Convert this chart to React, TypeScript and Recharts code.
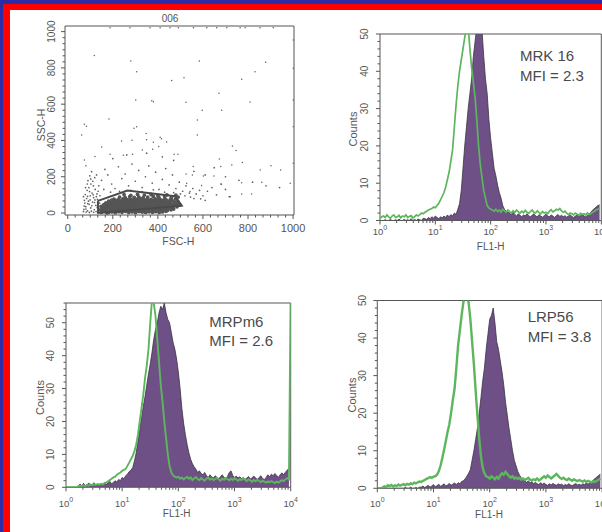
import React from 'react';
import { ComposedChart, ScatterChart, Scatter, Area, Line, XAxis, YAxis, ReferenceArea } from 'recharts';

const FONT = "'Liberation Sans', Arial, Helvetica, sans-serif";
const AXIS_COLOR = '#555555';
const TEXT_COLOR = '#555555';
const PURPLE = '#6F5086';
const PURPLE_EDGE = '#3a3340';
const GREEN = '#5DB65D';
const DOT = '#606060';

// ---------- Histogram data (counts per 2-channel bin, 256 channels = 4 decades) ----------
const CHANNEL_STEP = 2;

const mrk16Stained = [
  0,0,0,0.2,0,0,0.3,0,0,0.2,0,0.4,0,0,0.3,0,0.2,0,0.5,0,0.3,0,0.4,0.2,0,0.6,
  0.5,0.3,0.8,0.5,1,0.6,1.2,0.8,0.5,1,0.7,1.2,0.8,1.5,1,1.6,1.2,2,1.6,
  3,4.5,8,14,20,25,30,34,38,44,48,52,53,52,51,44,38,34,27,22,18,14,12,9.5,7.5,6,4,3,2.5,2.2,
  2,1.5,2.2,1.6,1.2,1.8,1.4,1,1.5,1.2,1.8,1.3,1,1.4,1.8,1.2,1,1.6,1.2,0.9,1.3,1.7,1.2,1,1.5,1.2,0.8,1.3,1.6,1.1,1.4,1,1.3,0.9,1.2,1.5,1.1,0.8,1.2,1.5,1,1.3,1.6,1.2,1,1.4,1.8,2.2,2.8,3.2,3.6,4,4.2
];
const mrk16Control = [
  0.5,1,1.2,0.8,1.5,1,0.6,1.2,1.5,0.8,1,1.4,0.7,1.2,1,1.5,0.8,1.1,1.3,0.7,1,1.5,1.2,1.6,2,1.8,
  2.2,2.5,2.8,3,3.2,3.6,3.4,4,4.6,5.5,6.5,7.5,9,11,13,16,19,25,31,36,40,43,46,49,52,52,46,41,37,33,27,20,15,11.5,8,6,4,3.4,
  3,2.8,2.5,3,2.4,2.8,2.2,3,2.6,2.2,2.8,2.4,2,2.6,2.2,2.8,2.3,2,2.5,2.1,2.7,2.2,1.9,2.4,2.8,2.2,2,2.6,2.1,1.8,2.4,2,2.2,1.8,2.5,2.9,2.3,2.6,3,2.8,3.2,2.6,2.2,2.5,2,1.6,2,1.8,1.5,2,1.7,1.4,1.9,1.6,1.8,1.5,2,1.6,1.9,2.2,2.5,2.8,3,3.2
];

const mrpStained = [
  0,0,0,0,0,0,
  0,0.3,1,0.4,1.2,0.5,0.8,1.3,0.5,0.9,1.4,0.6,1,0.5,1.2,0.8,1.5,0.9,1.3,
  1.8,1,1.5,2,1.6,2.4,2,3,2.6,3.5,4,4.8,5.2,6,8,10.5,14,17.5,21,24.5,27.5,31,34.5,37.5,41,
  45,48,50,53,55,54,56,53,51,50,47,44,42,39,35,30,24,19.5,16,13,10.5,8.5,7.2,6.2,5.5,
  4.5,5,4.2,3.8,4.5,3.6,3,3.8,3.2,2.8,3.5,3,2.6,3.2,3.8,3,2.6,3.3,4.5,5,3.6,3,3.4,2.8,3.2,2.6,3,2.4,2.8,3.3,2.5,2.9,3.4,2.8,2.4,3,3.5,2.7,2.3,3,3.8,3.2,4,3.5,4.2,3.6,3,3.8,4.4,3.8,4.6,5.2,5.8
];
const mrpControl = [
  0,0,0,0,0,0,
  0,0.3,0.5,0.3,0.6,0.4,0.7,0.5,0.8,0.6,0.9,0.7,1,0.8,1.1,0.9,1.3,1.5,1.8,
  2.2,2.6,3,3.2,3.8,4.2,4.5,5,5.3,5.6,6.5,7.5,8.5,9.5,11,13,16,20,24,28,33,37,42,50,57,
  56,52,45,38,31,26,20,15,10,6.5,4.5,3.6,3.2,3,
  3.2,2.6,3,2.4,2.8,3.2,2.6,3,2.2,2.7,3.1,2.5,2.2,2.8,2.4,2,2.6,3,2.3,2.7,2.2,2.5,2.9,2.4,2,2.6,2.3,2.8,2.5,2.1,2.6,2.2,2.8,2.4,2,2.5,2.2,2.7,2.3,1.9,2.4,2.1,1.7,2.2,1.8,2.3,1.9,1.6,2,1.7,1.4,1.8,1.5,1.9,1.6,1.3,1.7,1.4,1.8,2.2,1.9,2.4,2.8,2.5,
  60
];

const lrpStained = [
  0,0,0,0,0,0,0,0,0,0,0,0,0,0,0,0,0.2,0,0,0.3,0,0,0.2,0,0.3,
  0.3,0.6,0.2,0.5,0.8,0.3,0.6,1,0.4,0.7,1.1,0.5,0.8,1.2,0.6,0.9,1.3,0.8,1.1,1.4,1,1.5,1.2,1.8,2,
  2.5,3.2,4,5,7.5,10,13,16,20,24,28.5,32,37,41,45,46,48,44,39,37,34,31,27.5,23,19.5,16,13,10,7.5,6,4.5,
  3.5,2.8,2.2,2,1.6,2,1.4,1.8,1.2,1.6,1.2,1,1.5,1.1,1.4,1,0.8,1.2,0.9,1.3,1,0.8,1.2,0.9,1.1,0.7,1,0.8,1.2,0.9,0.7,1,1.3,0.9,1.1,0.8,1.2,1,1.4,1.1,1.5,1.8,2.2,2.6,3,3.4,3.8
];
const lrpControl = [
  0,0,0,0.2,0.5,0.3,0.8,0.6,0.9,0.5,0.8,0.6,1,0.7,0.9,1.1,0.8,1.2,1,1.3,1.1,1.5,1.3,1.6,1.8,
  1.7,2,2.2,2.5,2.7,3,2.8,3.1,3.2,3.6,4.5,6,8,10.2,12.5,15,17,20,23.5,26.5,32,38,42,46,49.5,
  51,51,49.5,45,39,33,26,19.5,13.5,8.5,5.5,4,3.2,3,
  2.6,3.2,2.8,2.4,3,2.6,3.4,4,3.6,4.4,3.8,3.2,2.8,3.2,2.6,2.9,2.5,2.8,2.3,2.6,2.2,2.5,2.8,2.3,2.1,2.4,2.2,2.6,2.1,2.4,2.8,3.2,2.8,3.4,3,2.6,3,3.4,3.8,3.3,2.8,2.5,2.8,2.4,2.2,2.6,2.3,2,2.4,2.1,1.9,2.2,2,1.8,2.1,1.7,2,1.8,1.6,1.9,1.7,2,2.3,2.6
];

// ---------- Scatter data (FSC-H, SSC-H) ----------
const gateVertices = [[134,67],[265,124],[476,93],[506,40],[135,0],[134,67]];

const sparseEvents = [
  [118,868],[280,838],[306,779],[584,838],[878,831],[831,779],[461,730],[516,746],[772,737],[671,660],
  [809,612],[302,623],[373,619],[380,614],[525,610],[597,566],[683,566],[575,513],[183,518],[74,489],
  [83,478],[62,430],[306,476],[294,467],[348,439],[410,417],[416,410],[575,430],[151,364],[239,397],
  [285,401],[350,404],[380,390],[439,392],[731,369],[747,344],[121,311],[188,324],[247,318],[288,324],
  [331,347],[377,351],[404,366],[472,324],[489,324],[74,292],[81,261],[557,256],[673,298],[679,256],
  [728,265],[775,278],[854,237],[902,261],[945,237],[987,164],[525,215],[553,210],[861,169],[772,167],
  [682,158],[594,151],[772,105],[816,105],[716,90],[649,204],[602,204],[528,164],[543,118]
];
const saturatedEvents = [
  [188,1022],[276,1022],[365,1022],[410,1022],[454,1022],[491,1022],[558,1022],[617,1022],[661,1022],
  [706,1022],[765,1022],[787,1022],[853,1022],[912,1022],
  [1001,954],[1001,798],[1001,623],[1001,476],[1001,274]
];
const midEvents = [
  [150,180],[165,240],[178,210],[195,160],[210,135],[225,255],[240,190],[255,215],[270,150],[285,270],
  [300,175],[315,235],[330,140],[345,200],[360,260],[375,165],[390,225],[405,130],[420,185],[435,245],
  [450,155],[465,210],[480,135],[495,170],[510,120],[525,150],[540,110],[555,135],[570,105],[585,125],
  [600,95],[620,120],[640,140],[660,100],[680,160],[700,130],[720,90],[160,130],[190,115],[230,120],
  [280,125],[330,118],[380,128],[430,115],[470,112],[500,105],[520,95],[545,88],[560,80],[590,78],
  [610,70],[200,300],[262,320],[350,330],[420,310],[470,290],[560,230],[610,210],[650,250],[700,200],
  [760,180],[820,170],[880,150],[940,140]
];
const leftEvents = [
  [72,20],[80,35],[88,12],[95,48],[102,28],[110,60],[118,18],[125,42],[132,75],[76,55],[84,80],[92,65],
  [100,95],[108,110],[115,85],[122,130],[130,105],[138,150],[78,102],[86,125],[94,140],[103,160],[111,175],
  [120,195],[128,210],[90,178],[98,205],[106,228],[114,150],[70,8],[82,5],[96,3],[105,10],[115,4],[126,8],
  [136,15],[74,70],[88,92],[97,118],[119,58],[131,30],[142,55],[73,38],[81,22],[89,52],[99,72],[107,40],
  [113,100],[121,72],[127,90],[135,120],[143,95],[70,90],[79,140],[87,160],[102,188]
];
const coreEvents = [
  [150,4],[166,8],[181,3],[196,6],[211,2],[226,7],[241,4],[256,9],[271,3],[286,6],[301,2],[316,8],[331,5],[346,3],[361,7],[376,4],[391,8],[406,3],[421,6],[436,9],
  [145,17],[160,13],[173,19],[188,14],[203,18],[218,12],[232,16],[247,20],[262,13],[277,17],[292,15],[307,19],[322,12],[337,16],[352,14],[367,18],[382,13],[397,17],[412,15],[427,19],[442,14],[458,18],
  [155,27],[170,23],[185,28],[198,24],[212,26],[228,22],[243,29],[258,25],[273,27],[288,23],[303,28],[318,24],[333,26],[348,22],[363,29],[378,25],[393,27],[408,23],[423,28],[440,24],[455,26],[470,22],
  [148,36],[165,33],[180,38],[195,34],[210,37],[225,32],[240,36],[256,39],[270,33],[285,37],[300,35],[315,38],[330,32],[345,36],[360,34],[375,39],[390,33],[405,37],[420,35],[437,38],[452,32],[468,36],[485,34],
  [160,46],[176,43],[192,48],[207,44],[222,47],[237,42],[252,46],[267,49],[282,43],[297,47],[312,45],[327,48],[342,42],[357,46],[372,44],[387,49],[402,43],[418,47],[433,45],[450,48],[466,42],[482,46],[498,44],
  [170,56],[188,53],[205,58],[220,54],[236,57],[251,52],[266,56],[281,59],[296,53],[311,57],[326,55],[341,58],[356,52],[371,56],[386,54],[402,59],[420,53],[438,57],[456,55],[475,58],[492,52],
  [182,66],[200,63],[218,68],[235,64],[250,67],[265,62],[280,66],[295,69],[310,63],[325,67],[340,65],[355,68],[370,62],[388,66],[405,64],[425,69],[445,63],[465,67],[488,64],
  [205,76],[225,73],[245,78],[262,74],[278,77],[293,72],[308,76],[323,79],[338,73],[353,77],[370,75],[390,78],[412,72],[432,76],[455,74],[478,77],
  [230,88],[255,85],[275,90],[295,86],[315,89],[335,84],[355,88],[380,91],[405,85],[430,89],[460,86],[490,88],
  [250,101],[280,97],[310,103],[340,99],[370,102],[400,96],[440,100],[480,98],
  [158,10],[174,1],[190,11],[205,9],[220,15],[236,10],[251,14],[266,8],[281,12],[296,10],[311,13],[326,9],[341,11],[356,10],[371,12],[386,9],[401,11],
  [162,30],[178,31],[193,29],[208,31],[223,27],[238,31],[253,33],[268,30],[283,31],[298,30],[313,31],[328,29],[343,30],[358,31],[373,30],[388,29],[403,30],[418,31],[433,31],
  [168,50],[184,51],[199,52],[215,50],[230,51],[245,51],[260,50],[275,52],[290,51],[305,51],[320,50],[335,51],[350,50],[365,50],[380,51],[395,50],[410,51],[426,51],[442,52],[458,50],[474,51],
  [195,71],[212,70],[228,70],[243,71],[258,70],[273,71],[288,71],[303,70],[318,71],[333,70],[348,71],[363,70],[380,70],[398,71],[418,70],[438,71],[460,70]
];

// ---------- Axis tick definitions ----------
const decadeExponents = [0, 1, 2, 3, 4];
const decadeChannels = [0, 64, 128, 192, 256];
const minorMultipliers = [2, 3, 4, 5, 6, 7, 8, 9];
const logTicks = [
  ...decadeChannels,
  ...decadeChannels.slice(0, 4).flatMap((d) => minorMultipliers.map((m) => d + 64 * Math.log10(m))),
].sort((a, b) => a - b);

const scatterTickLabels = [0, 200, 400, 600, 800, 1000];
const scatterTicks = Array.from({ length: 31 }, (_, k) => (k * 100) / 3);

const countTicks = (max: number) => {
  const t: number[] = [];
  for (let v = 0; v <= max; v += 2) t.push(v);
  return t;
};

const toXY = (pts: number[][]) => pts.map(([x, y]) => ({ x, y }));

// ---------- Tick renderers ----------
const renderLogTick = (labelDy: number) => (props: any) => {
  const { x, y, payload } = props;
  const idx = decadeChannels.indexOf(payload.value);
  const major = idx >= 0;
  return (
    <g>
      <line x1={x} x2={x} y1={y} y2={y + (major ? 4 : 2.5)} stroke={AXIS_COLOR} strokeWidth={1} />
      {major && (
        <text x={x} y={y + labelDy} textAnchor="middle" fontSize={9.5} fill={TEXT_COLOR} fontFamily={FONT}>
          <tspan>10</tspan>
          <tspan fontSize={7} dy={-5}>{decadeExponents[idx]}</tspan>
        </text>
      )}
    </g>
  );
};

const renderCountTick = (props: any) => {
  const { x, y, payload } = props;
  const v = payload.value;
  const major = v % 10 === 0 && v <= 50;
  const lx = x - 11.5;
  return (
    <g>
      <line x1={x} x2={x - (major ? 4 : 2.5)} y1={y} y2={y} stroke={AXIS_COLOR} strokeWidth={1} />
      {major && (
        <text x={lx} y={y} transform={`rotate(-90 ${lx} ${y})`} textAnchor="middle" fontSize={10} fill={TEXT_COLOR} fontFamily={FONT}>
          {v}
        </text>
      )}
    </g>
  );
};

const isMajorScatter = (v: number) => scatterTickLabels.some((t) => Math.abs(t - v) < 1e-6);

const renderScatterXTick = (props: any) => {
  const { x, y, payload } = props;
  const major = isMajorScatter(payload.value);
  return (
    <g>
      <line x1={x} x2={x} y1={y} y2={y + (major ? 4 : 2.5)} stroke={AXIS_COLOR} strokeWidth={1} />
      {major && (
        <text x={x} y={y + 16.5} textAnchor="middle" fontSize={11} fill={TEXT_COLOR} fontFamily={FONT}>
          {Math.round(payload.value)}
        </text>
      )}
    </g>
  );
};

const renderScatterYTick = (props: any) => {
  const { x, y, payload } = props;
  const major = isMajorScatter(payload.value);
  const lx = x - 10;
  return (
    <g>
      <line x1={x} x2={x - (major ? 4 : 2.5)} y1={y} y2={y} stroke={AXIS_COLOR} strokeWidth={1} />
      {major && (
        <text x={lx} y={y} transform={`rotate(-90 ${lx} ${y})`} textAnchor="middle" fontSize={10} fill={TEXT_COLOR} fontFamily={FONT}>
          {Math.round(payload.value)}
        </text>
      )}
    </g>
  );
};

// ---------- Panels ----------
type HistProps = {
  left: number; top: number; plotLeft: number; plotTop: number; plotWidth: number; plotHeight: number;
  yMax: number; stained: number[]; control: number[]; labelDy: number; greenWidth: number;
};

function Histogram(p: HistProps) {
  const n = Math.max(p.stained.length, p.control.length);
  const rows: any[] = [];
  for (let i = 0; i < n; i++) rows.push({ ch: i * CHANNEL_STEP, stained: p.stained[i], control: p.control[i] });
  const yAxisW = p.plotLeft - p.left;
  const marginTop = p.plotTop - p.top;
  const xAxisH = 34;
  const width = yAxisW + p.plotWidth + 10;
  const height = marginTop + p.plotHeight + xAxisH + 4;
  return (
    <div style={{ position: 'absolute', left: p.left, top: p.top }}>
      <ComposedChart width={width} height={height} data={rows} margin={{ top: marginTop, right: 10, bottom: 4, left: 0 }}>
        <XAxis dataKey="ch" type="number" domain={[0, 256]} ticks={logTicks} interval={0} allowDataOverflow
          tickSize={0} tickMargin={0} axisLine={false} tickLine={false} height={xAxisH} tick={renderLogTick(p.labelDy)} />
        <YAxis type="number" domain={[0, p.yMax]} ticks={countTicks(p.yMax)} interval={0} allowDataOverflow
          tickSize={0} tickMargin={0} axisLine={false} tickLine={false} width={yAxisW} tick={renderCountTick} />
        <Area type="linear" dataKey="stained" fill={PURPLE} fillOpacity={1} stroke={PURPLE_EDGE} strokeWidth={0.8}
          isAnimationActive={false} dot={false} activeDot={false} baseValue={0} />
        <Line type="linear" dataKey="control" stroke={GREEN} strokeWidth={p.greenWidth} dot={false} activeDot={false}
          isAnimationActive={false} />
        <ReferenceArea x1={0} x2={256} y1={0} y2={p.yMax} fill="none" stroke={AXIS_COLOR} strokeWidth={1} ifOverflow="visible" />
      </ComposedChart>
    </div>
  );
}

const smallDot = (props: any) => <circle cx={props.cx} cy={props.cy} r={0.75} fill={DOT} />;
const coreDot = (props: any) => <circle cx={props.cx} cy={props.cy} r={1.9} fill="#555555" />;
const midDot = (props: any) => <circle cx={props.cx} cy={props.cy} r={0.85} fill={DOT} />;
const noDot = () => <g />;

function ScatterPanel() {
  return (
    <div style={{ position: 'absolute', left: 0, top: 0 }}>
      <ScatterChart width={310} height={260} margin={{ top: 26, right: 16, bottom: 15, left: 0 }}>
        <XAxis type="number" dataKey="x" domain={[-12, 1004]} ticks={scatterTicks} interval={0} allowDataOverflow
          tickSize={0} tickMargin={0} axisLine={false} tickLine={false} height={30} tick={renderScatterXTick} />
        <YAxis type="number" dataKey="y" domain={[-11, 1031]} ticks={scatterTicks} interval={0} allowDataOverflow
          tickSize={0} tickMargin={0} axisLine={false} tickLine={false} width={65} tick={renderScatterYTick} />
        <ReferenceArea x1={-12} x2={1004} y1={-11} y2={1031} fill="none" stroke={AXIS_COLOR} strokeWidth={1} ifOverflow="visible" />
        <Scatter data={toXY(sparseEvents)} shape={smallDot} isAnimationActive={false} />
        <Scatter data={toXY(saturatedEvents)} shape={smallDot} isAnimationActive={false} />
        <Scatter data={toXY(midEvents)} shape={midDot} isAnimationActive={false} />
        <Scatter data={toXY(leftEvents)} shape={midDot} isAnimationActive={false} />
        <Scatter data={toXY(coreEvents)} shape={coreDot} isAnimationActive={false} />
        <Scatter data={toXY(gateVertices)} shape={noDot} line={{ stroke: '#4a4a4a', strokeWidth: 2 }} lineType="joint" isAnimationActive={false} />
      </ScatterChart>
    </div>
  );
}

const rotLabel = (x: number, y: number, txt: string, size: number) => (
  <text x={x} y={y} transform={`rotate(-90 ${x} ${y})`} textAnchor="middle" fontSize={size} fill={TEXT_COLOR} fontFamily={FONT}>
    {txt}
  </text>
);

export default function App() {
  return (
    <div style={{ position: 'fixed', left: 0, top: 0, width: 602, height: 532, overflow: 'hidden', background: '#2C2CA8', fontFamily: FONT }}>
      <div style={{ position: 'absolute', left: 3, top: 4, right: 0, bottom: 0, background: '#FF0000' }} />
      <div style={{ position: 'absolute', left: 10, top: 10, right: 0, bottom: 0, background: '#FFFFFF' }} />

      <ScatterPanel />
      <Histogram left={330} top={0} plotLeft={380} plotTop={34} plotWidth={221.3} plotHeight={186.5} yMax={50}
        stained={mrk16Stained} control={mrk16Control} labelDy={14.5} greenWidth={1.7} />
      <Histogram left={0} top={260} plotLeft={66} plotTop={303} plotWidth={224.7} plotHeight={184.3} yMax={56}
        stained={mrpStained} control={mrpControl} labelDy={19.5} greenWidth={1.9} />
      <Histogram left={327} top={260} plotLeft={377.3} plotTop={300.5} plotWidth={224.8} plotHeight={187.8} yMax={50}
        stained={lrpStained} control={lrpControl} labelDy={18.5} greenWidth={2.4} />

      <svg width={602} height={532} style={{ position: 'absolute', left: 0, top: 0, pointerEvents: 'none' }}>
        <text x={170} y={21.5} textAnchor="middle" fontSize={10} fill={TEXT_COLOR} fontFamily={FONT}>006</text>
        <text x={178.3} y={245} textAnchor="middle" fontSize={10.5} fill={TEXT_COLOR} fontFamily={FONT}>FSC-H</text>
        {rotLabel(45, 125, 'SSC-H', 10.5)}

        {rotLabel(357.3, 129, 'Counts', 11)}
        <text x={490.7} y={250} textAnchor="middle" fontSize={10} fill={TEXT_COLOR} fontFamily={FONT}>FL1-H</text>
        <text x={520} y={60.7} fontSize={15} fill="#4a4a4a" fontFamily={FONT}>MRK 16</text>
        <text x={520} y={80.7} fontSize={15} fill="#4a4a4a" fontFamily={FONT}>MFI = 2.3</text>

        {rotLabel(44.3, 397.5, 'Counts', 11)}
        <text x={176.7} y={517} textAnchor="middle" fontSize={10} fill={TEXT_COLOR} fontFamily={FONT}>FL1-H</text>
        <text x={209.3} y={327.3} fontSize={15} fill="#4a4a4a" fontFamily={FONT}>MRPm6</text>
        <text x={209.3} y={346} fontSize={15} fill="#4a4a4a" fontFamily={FONT}>MFI = 2.6</text>

        {rotLabel(356, 395, 'Counts', 11)}
        <text x={489} y={518} textAnchor="middle" fontSize={10} fill={TEXT_COLOR} fontFamily={FONT}>FL1-H</text>
        <text x={527.7} y={322.3} fontSize={15} fill="#4a4a4a" fontFamily={FONT}>LRP56</text>
        <text x={527.7} y={341.7} fontSize={15} fill="#4a4a4a" fontFamily={FONT}>MFI = 3.8</text>
      </svg>
    </div>
  );
}
